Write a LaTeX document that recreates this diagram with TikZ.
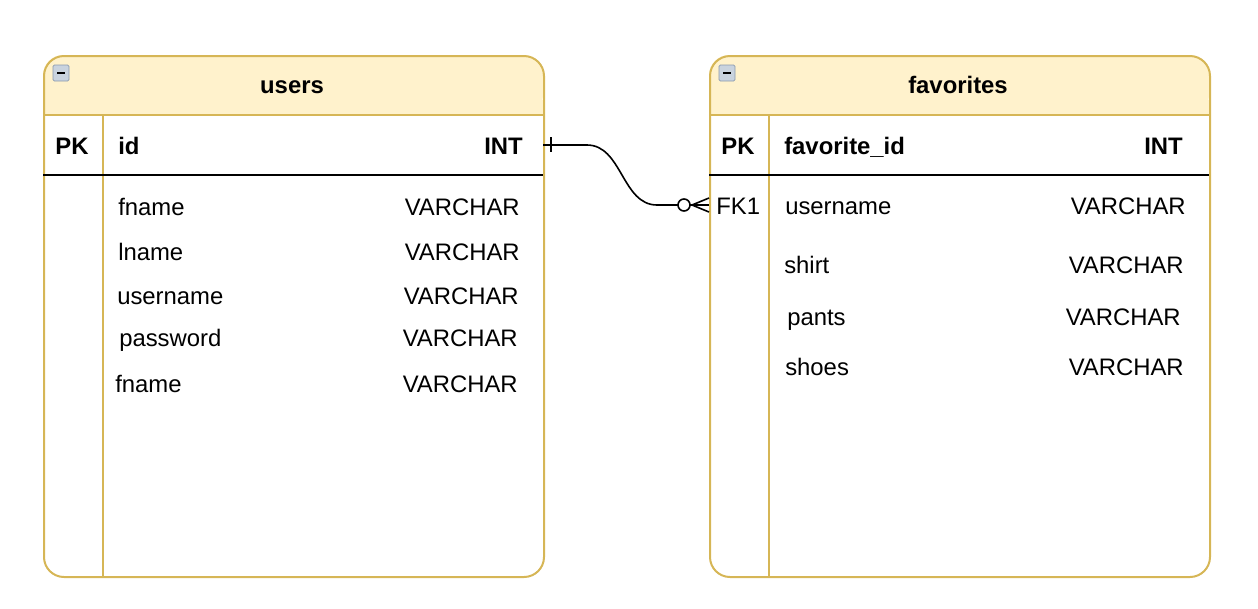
\documentclass[tikz,border=0pt]{standalone}
\usepackage{fontspec}
\setmainfont{Liberation Sans}
\definecolor{gold}{HTML}{D6B656}
\definecolor{hdr}{HTML}{FFF2CC}
\definecolor{icobg}{HTML}{C9D3DE}
\definecolor{icoedge}{HTML}{8A9AAE}
\tikzset{
  tbl/.style={draw=gold, line width=1.5pt, rounded corners=15pt},
  sep/.style={draw=gold, line width=1.5pt},
  rule/.style={draw=black, line width=1.5pt},
  txt/.style={inner sep=0pt, text height=12.8pt, text depth=0pt, font=\fontsize{17.9}{21}\selectfont},
  btxt/.style={txt, font=\fontsize{17.9}{21}\selectfont\bfseries},
  ttl/.style={inner sep=0pt, anchor=base, font=\fontsize{17.9}{21}\selectfont\bfseries},
  icon/.style={draw=icoedge, fill=icobg, line width=0.6pt, rounded corners=1pt},
  conn/.style={draw=black, line width=1.2pt},
}
\begin{document}
\begin{tikzpicture}[x=0.75pt, y=-0.75pt]
\useasboundingbox (0,0) rectangle (1258,608);
% ---------- users table ----------
\path[fill=hdr, rounded corners=15pt] (43,115) -- (43,55) -- (543,55) -- (543,115) -- cycle;
\fill[hdr] (43,100) rectangle (543,115);
\node[tbl, minimum width=500*0.75pt, minimum height=521*0.75pt, anchor=north west, inner sep=0pt] (users) at (43,55) {};
\draw[sep] (43,115) -- (543,115);
\draw[sep] (103,115) -- (103,576);
\draw[rule] (43,175) -- (543,175);
\draw[icon] (53,65) rectangle (69,81);
\draw[line width=2pt] (57,73) -- (65,73);
\node[ttl] (usersT) at (292,93) {users};
\node[btxt, anchor=center] (uPK) at (72,146) {PK};
\node[btxt, anchor=west] (uid) at (118,146) {id};
\node[btxt, anchor=east] (uidT) at (523,146) {INT};
\node[txt, anchor=west] (u1) at (118,207) {fname};
\node[txt, anchor=east] (u1T) at (520,207) {VARCHAR};
\node[txt, anchor=west] (u2) at (118,252) {lname};
\node[txt, anchor=east] (u2T) at (520,252) {VARCHAR};
\node[txt, anchor=west] (u3) at (117,296) {username};
\node[txt, anchor=east] (u3T) at (519,296) {VARCHAR};
\node[txt, anchor=west] (u4) at (119,338) {password};
\node[txt, anchor=east] (u4T) at (518,338) {VARCHAR};
\node[txt, anchor=west] (u5) at (115,384) {fname};
\node[txt, anchor=east] (u5T) at (518,384) {VARCHAR};
% ---------- favorites table ----------
\path[fill=hdr, rounded corners=15pt] (709,115) -- (709,55) -- (1209,55) -- (1209,115) -- cycle;
\fill[hdr] (709,100) rectangle (1209,115);
\node[tbl, minimum width=500*0.75pt, minimum height=521*0.75pt, anchor=north west, inner sep=0pt] (fav) at (709,55) {};
\draw[sep] (709,115) -- (1209,115);
\draw[sep] (769,115) -- (769,576);
\draw[rule] (709,175) -- (1209,175);
\draw[icon] (719,65) rectangle (735,81);
\draw[line width=2pt] (723,73) -- (731,73);
\node[ttl] (favT) at (958,93) {favorites};
\node[btxt, anchor=center] (fPK) at (738,146) {PK};
\node[btxt, anchor=west] (fid) at (784,146) {favorite\_id};
\node[btxt, anchor=east] (fidT) at (1183,146) {INT};
\node[txt, anchor=west] (fFK) at (716,206) {FK1};
\node[txt, anchor=west] (f1) at (785,206) {username};
\node[txt, anchor=east] (f1T) at (1186,206) {VARCHAR};
\node[txt, anchor=west] (f2) at (784,265) {shirt};
\node[txt, anchor=east] (f2T) at (1184,265) {VARCHAR};
\node[txt, anchor=west] (f3) at (787,317) {pants};
\node[txt, anchor=east] (f3T) at (1181,317) {VARCHAR};
\node[txt, anchor=west] (f4) at (785,367) {shoes};
\node[txt, anchor=east] (f4T) at (1184,367) {VARCHAR};
% ---------- relationship ----------
\coordinate (src) at (543,145);
\coordinate (dst) at (709,205);
\coordinate (circC) at (684,205);
\draw[conn] (src) -- (587,145) .. controls (622,145) and (622,205) .. (657,205) -- (678,205);
\draw[conn] (551,137) -- (551,152);
\draw[conn] (circC) circle[radius=6*0.75pt];
\draw[conn] (690,205) -- (dst);
\draw[conn] (dst |- 0,198) -- (692,205) -- (dst |- 0,212);
\end{tikzpicture}
\end{document}
